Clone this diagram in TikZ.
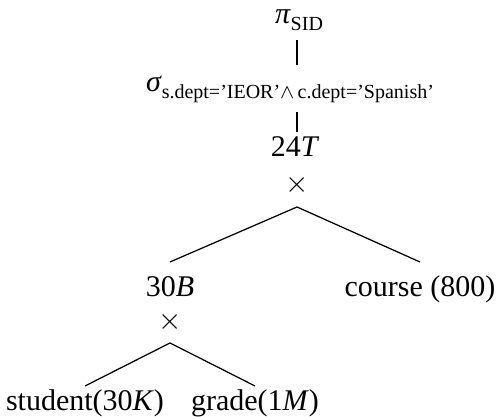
\documentclass[12pt,tikz,border=0pt]{standalone}
\usepackage{fontspec}
\setmainfont{Liberation Serif}
\newcommand{\lowsub}[1]{\raisebox{-2.5pt}{\fontsize{8}{9}\selectfont #1}}
\begin{document}
\begin{tikzpicture}[x=0.4pt,y=-0.4pt,
  lbl/.style={inner sep=0pt,outer sep=0pt,anchor=base,font=\fontsize{12}{14}\selectfont},
  edge/.style={draw=black,line width=0.5pt}]
\useasboundingbox (0,0) rectangle (496,417);
\coordinate (spine) at (297,0);
\node[lbl,text depth=6.4pt] (pi) at (299,24) {\textit{π}\lowsub{SID}};
\node[lbl,text height=10.8pt,text depth=8pt] (sig) at (290,92)
  {\textit{σ}\lowsub{s.dept=’IEOR’$\wedge$\,c.dept=’Spanish’}};
\node[lbl,text height=10pt] (t24) at (295,157) {24\textit{T}};
\node[lbl,text depth=5.8pt] (x1) at (297,192.5) {$\times$};
\node[lbl,text height=14pt] (b30) at (170,297) {30\textit{B}};
\node[lbl,text height=14pt] (course) at (420,297) {course (800)};
\node[lbl,text depth=5.4pt] (x2) at (170,329.5) {$\times$};
\node[lbl,text height=10pt] (student) at (85,411) {student(30\textit{K})};
\node[lbl,text height=10pt] (grade) at (255,411) {grade(1\textit{M})};
\draw[edge] (spine |- pi.south) -- (spine |- sig.north);
\draw[edge] (spine |- sig.south) -- (spine |- t24.north);
\draw[edge] (x1.south) -- (b30.north);
\draw[edge] (x1.south) -- (course.north);
\draw[edge] (x2.south) -- (student.north);
\draw[edge] (x2.south) -- (grade.north);
\end{tikzpicture}
\end{document}
